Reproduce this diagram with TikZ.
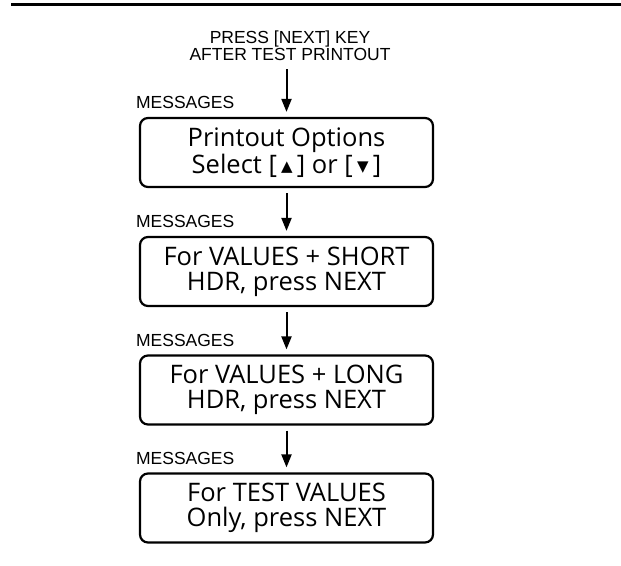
\documentclass[tikz,border=0pt]{standalone}
\usepackage{fontspec}
\setmainfont{Liberation Sans}
\newfontfamily\panelfont{Open Sans}
\newfontfamily\symfont{DejaVu Sans}
\usetikzlibrary{arrows.meta, positioning}

\newcommand{\keyup}{[\,\raisebox{1.5pt}{\symfont\fontsize{15}{15}\selectfont ▲}\,]}
\newcommand{\keydown}{[\,\raisebox{1.5pt}{\symfont\fontsize{15}{15}\selectfont ▼}\,]}

\tikzset{
  panel/.style={draw, line width=2.2pt, rounded corners=8pt, minimum width=293pt,
                minimum height=69pt, inner sep=0pt, align=center,
                font=\panelfont\fontsize{25.5}{25}\selectfont},
  msglabel/.style={anchor=base west, inner sep=0pt, font=\fontsize{17.5}{19}\selectfont},
  flow/.style={->, line width=2pt, shorten <=5pt, shorten >=5pt}
}

\begin{document}
\begin{tikzpicture}[x=1pt, y=-1pt, >={Triangle[length=13pt, width=10pt]}]

\useasboundingbox (0,0) rectangle (621,565);

% Rule at the top
\draw[line width=3pt] (11,4.5) -- (621,4.5);

% Start text
\node[align=center, inner sep=0pt, font=\fontsize{17.5}{17}\selectfont] (start) at (290,46)
  {PRESS [NEXT] KEY\\AFTER TEST PRINTOUT};

% Message panels
\node[panel] (options) at (286.5,152.5) {Printout Options\\Select \keyup{} or \keydown};
\node[panel] (short) at (286.5,271.5) {For VALUES + SHORT\\HDR, press NEXT};
\node[panel] (long) at (286.5,390) {For VALUES + LONG\\HDR, press NEXT};
\node[panel] (testval) at (286.5,508) {For TEST VALUES\\Only, press NEXT};

% MESSAGES labels
\node[msglabel] (msg1) at ([shift={(-3,-8)}]options.north west) {MESSAGES};
\node[msglabel] (msg2) at ([shift={(-3,-8)}]short.north west) {MESSAGES};
\node[msglabel] (msg3) at ([shift={(-3,-8)}]long.north west) {MESSAGES};
\node[msglabel] (msg4) at ([shift={(-3,-8)}]testval.north west) {MESSAGES};

% Arrows
\draw[flow, shorten <=8pt] (start.south -| options.north) -- (options.north);
\draw[flow] (options) -- (short);
\draw[flow] (short) -- (long);
\draw[flow] (long) -- (testval);

\end{tikzpicture}
\end{document}
